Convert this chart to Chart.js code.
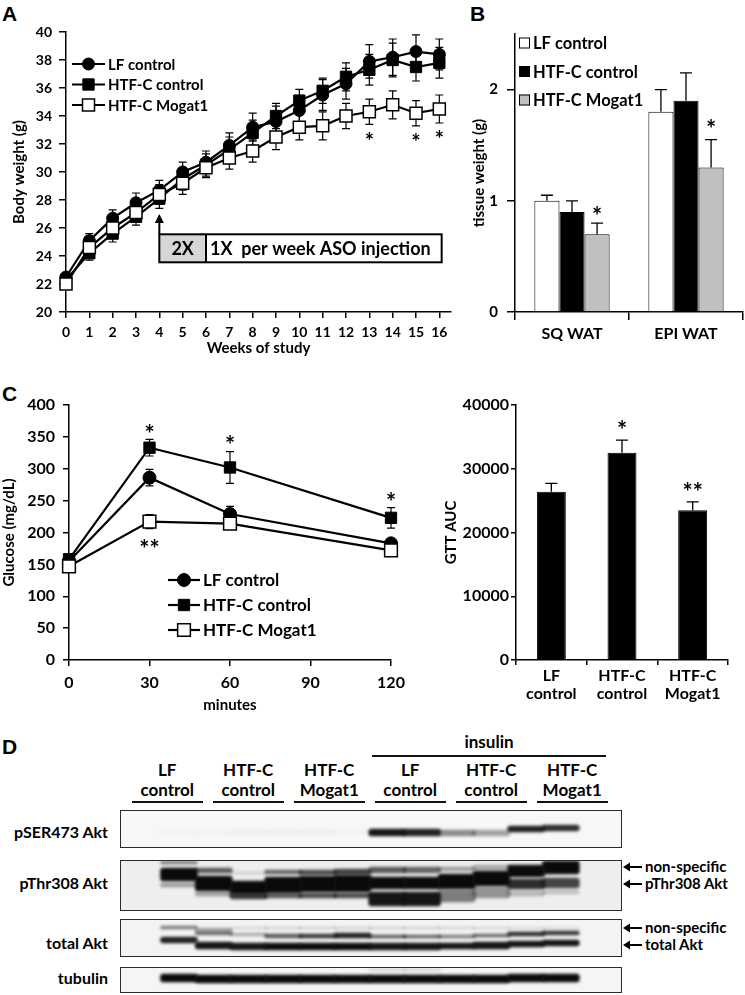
<!DOCTYPE html>
<html><head><meta charset="utf-8">
<script src="https://cdn.jsdelivr.net/npm/chart.js@4.4.1/dist/chart.umd.min.js"></script>
<style>
html,body{margin:0;padding:0;background:#fff}
body{width:745px;height:995px;position:relative;overflow:hidden;font-family:Lato,"Open Sans",sans-serif;font-weight:bold;color:#000}
canvas{position:absolute}
.t{position:absolute;white-space:nowrap}
.letter{position:absolute;font-family:"Liberation Sans",Arial,sans-serif;font-weight:bold;font-size:21px;line-height:21px}
.strip{position:absolute}
.strip .frame{position:absolute;left:0;top:0;right:0;bottom:0;border:1.5px solid #2b2b2b;box-sizing:border-box}
.uline{position:absolute;height:2px;background:#111}
</style></head><body>

<div class="letter" style="left:2px;top:3px">A</div>
<div class="letter" style="left:470px;top:3px">B</div>
<div class="letter" style="left:2px;top:383px">C</div>
<div class="letter" style="left:2px;top:736px">D</div>

<canvas id="cA" width="470" height="360" style="left:0;top:0"></canvas>
<canvas id="cB" width="275" height="360" style="left:470px;top:0"></canvas>
<canvas id="cC" width="435" height="360" style="left:0;top:360px"></canvas>
<canvas id="cD" width="310" height="360" style="left:435px;top:360px"></canvas>

<div id="blot"></div>

<script>
// ---------------- DATA ----------------
// Panel A: body weight
const weeks = [0,1,2,3,4,5,6,7,8,9,10,11,12,13,14,15,16];
const lfWeight     = [22.5,25.1,26.7,27.8,28.7,30.0,30.7,31.9,33.2,33.6,34.4,35.5,36.3,37.9,38.2,38.6,38.4];
const lfWeightErr  = [0.3,0.5,0.6,0.7,0.7,0.7,0.8,0.9,1.0,1.1,1.0,1.1,1.1,1.2,1.3,1.2,1.1];
const htfWeight    = [22.3,24.2,25.6,26.8,28.1,29.5,30.5,31.6,32.8,34.0,35.1,35.8,36.8,37.3,38.0,37.5,37.8];
const htfWeightErr = [0.3,0.5,0.6,0.6,0.7,0.8,0.8,0.9,0.9,0.9,0.8,0.9,1.0,1.1,1.2,1.0,1.1];
const mogatWeight    = [22.0,24.6,26.0,27.1,28.4,29.2,30.3,31.0,31.5,32.5,33.2,33.3,34.0,34.3,34.8,34.2,34.5];
const mogatWeightErr = [0.3,0.5,0.6,0.6,0.7,0.8,0.7,0.8,0.8,0.9,0.9,1.0,0.9,0.9,1.0,0.9,1.0];
const weightStarWeeks = [13,15,16];
const injectionWeeks = [4,6,16.1];
const injectionLabels = ['2X','1X  per week ASO injection'];

// Panel B: tissue weight
const tissueCats = ['SQ WAT','EPI WAT'];
const lfTissue = [1.0,1.8],  lfTissueErr = [0.05,0.2];
const htfTissue = [0.9,1.9], htfTissueErr = [0.1,0.25];
const mogatTissue = [0.7,1.3], mogatTissueErr = [0.1,0.25];

// Panel C: GTT
const gttMinutes = [0,30,60,120];
const lfGlucose = [155,286,229,183],   lfGlucoseErr = [5,13,12,5];
const htfGlucose = [158,333,302,223],  htfGlucoseErr = [5,13,25,16];
const mogatGlucose = [147,217,214,172], mogatGlucoseErr = [5,11,8,5];
const aucCats = [['LF','control'],['HTF-C','control'],['HTF-C','Mogat1']];
const gttAuc = [26400,32500,23500];
const gttAucErr = [1300,2000,1300];
const aucStars = ['','*','**'];

// Panel D: western blot band data (lane 0..11; top/bottom in strip px units; ink 0..1)
const lanes = [0,1,2,3,4,5,6,7,8,9,10,11];
const blotGroups = [['LF','control'],['HTF-C','control'],['HTF-C','Mogat1'],['LF','control'],['HTF-C','control'],['HTF-C','Mogat1']];
const serTop    = [20,20,20,20,20,20,19,19,20,20,16,15];
const serBottom = [25,25,25,25,25,25,26,26,26,26,22,21];
const serInk    = [0.02,0.02,0.03,0.03,0.03,0.02,0.95,0.9,0.45,0.35,0.9,0.85];
const thrNsTop    = [1,8,12,10,10,9,7,7,7,5,5,1];
const thrNsBottom = [4,13,14,14,15,15,13,13,11,10,17,14];
const thrNsInk    = [0.5,0.65,0.15,0.6,0.7,0.75,0.65,0.6,0.35,0.3,1.0,1.0];
const thrTop    = [8,16,21,17,16,15,17,17,14,11,19,18];
const thrBottom = [21,31,34,33,32,32,29,29,29,26,29,28];
const thrInk    = [1.0,1.0,1.0,1.0,1.0,1.0,1.0,1.0,1.0,1.0,0.85,0.75];
const thrLowTop    = [23,32,33,33,33,33,32,32,30,27,31,30];
const thrLowBottom = [27,36,39,38,38,38,46,46,42,38,36,34];
const thrLowInk    = [0.35,0.35,0.8,0.65,0.7,0.7,0.95,0.95,0.5,0.4,0.25,0.2];
const totFaintTop    = [7,9,8,8,8,8,8,8,8,8,8,8];
const totFaintBottom = [10,12,10,10,10,10,10,10,10,10,10,10];
const totFaintInk    = [0.5,0.3,0.12,0.15,0.15,0.15,0.15,0.15,0.12,0.12,0.1,0.1];
const totNsTop    = [18,12,14,15,15,14,16,16,16,15,13,12];
const totNsBottom = [24,16,17,19,19,19,19,19,19,18,17,16];
const totNsInk    = [0.9,0.55,0.3,0.65,0.8,0.9,0.65,0.6,0.5,0.6,0.85,0.8];
const totTop    = [30,23,24,24,24,24,24,24,24,23,22,21];
const totBottom = [30,30,31,31,31,31,31,31,30,30,28,27];
const totInk    = [0.0,0.95,0.95,1.0,1.0,1.0,0.95,0.95,0.95,0.95,0.95,0.95];
const tubTop    = [7,8,8,8,8,8,8,8,8,8,7,7];
const tubBottom = [15,16,16,16,16,16,16,16,16,16,15,15];
const tubInk    = [1,1,1,1,1,1,1,1,1,1,1,1];
const tubFaintTop = [2,2,2,2,2,2,2,2,2,2,2,2];
const tubFaintBottom = [4,4,4,4,4,4,4,4,4,4,4,4];
const tubFaintInk = [0,0,0,0,0,0,0.15,0.15,0,0,0,0];

// ---------------- SETUP ----------------
Chart.defaults.font.family = 'Lato, "Open Sans", sans-serif';
Chart.defaults.font.weight = 'bold';
Chart.defaults.color = '#000';
Chart.defaults.animation = false;
Chart.defaults.responsive = false;
Chart.defaults.devicePixelRatio = 1;
Chart.defaults.plugins.legend.display = false;
Chart.defaults.plugins.tooltip.enabled = false;

function valOf(d){ return (d !== null && typeof d === 'object') ? d.y : d; }

function drawErrors(chart, o){
  const ctx = chart.ctx;
  ctx.save();
  ctx.strokeStyle = '#000';
  ctx.lineWidth = o.width || 1.2;
  chart.data.datasets.forEach((ds, i) => {
    if (!ds.errors) return;
    const meta = chart.getDatasetMeta(i);
    const ys = chart.scales[meta.yAxisID];
    meta.data.forEach((el, j) => {
      const v = valOf(ds.data[j]), e = ds.errors[j];
      const yt = ys.getPixelForValue(v + e);
      const yb = o.up ? ys.getPixelForValue(v) : ys.getPixelForValue(v - e);
      const h = o.cap / 2;
      ctx.beginPath();
      ctx.moveTo(el.x, yt); ctx.lineTo(el.x, yb);
      ctx.moveTo(el.x - h, yt); ctx.lineTo(el.x + h, yt);
      if (!o.up) { ctx.moveTo(el.x - h, yb); ctx.lineTo(el.x + h, yb); }
      ctx.stroke();
    });
  });
  ctx.restore();
}
const errorBars = {
  id: 'errorBars',
  beforeDatasetsDraw(chart, a, o){ if (o.behind) drawErrors(chart, o); },
  afterDatasetsDraw(chart, a, o){ if (!o.behind) drawErrors(chart, o); }
};

const stars = {
  id: 'stars',
  afterDatasetsDraw(chart, a, o){
    if (!o.items) return;
    const ctx = chart.ctx;
    ctx.save();
    ctx.fillStyle = '#000';
    ctx.font = 'bold ' + o.size + 'px Lato, sans-serif';
    ctx.textAlign = 'center';
    ctx.textBaseline = 'alphabetic';
    o.items.forEach(it => {
      if (!it.text) return;
      const ds = chart.data.datasets[it.dataset];
      const meta = chart.getDatasetMeta(it.dataset);
      const ys = chart.scales[meta.yAxisID];
      const v = valOf(ds.data[it.index]);
      const e = ds.errors ? ds.errors[it.index] : 0;
      const x = meta.data[it.index].x;
      const y = it.side === 'below' ? ys.getPixelForValue(v - e) + it.gap : ys.getPixelForValue(v + e) - it.gap;
      ctx.fillText(it.text, x, y + 0.55 * o.size);
    });
    ctx.restore();
  }
};

const lineLegend = {
  id: 'lineLegend',
  afterDraw(chart, a, o){
    const ctx = chart.ctx, ca = chart.chartArea;
    ctx.save();
    chart.data.datasets.forEach((ds, i) => {
      const y = ca.top + o.top + i * o.rowGap;
      const x0 = ca.left + o.left;
      ctx.strokeStyle = '#000';
      ctx.lineWidth = ds.borderWidth;
      ctx.beginPath(); ctx.moveTo(x0, y); ctx.lineTo(x0 + o.lineLen, y); ctx.stroke();
      ctx.fillStyle = ds.pointBackgroundColor;
      ctx.strokeStyle = ds.pointBorderColor;
      ctx.lineWidth = ds.pointBorderWidth;
      Chart.helpers.drawPoint(ctx, {pointStyle: ds.pointStyle, radius: ds.pointRadius, rotation: 0, borderWidth: ds.pointBorderWidth}, x0 + o.lineLen / 2, y);
      ctx.fillStyle = '#000';
      ctx.font = 'bold ' + o.size + 'px Lato, sans-serif';
      ctx.textAlign = 'left';
      ctx.textBaseline = 'middle';
      ctx.fillText(ds.label, x0 + o.lineLen + o.gap, y + 1);
    });
    ctx.restore();
  }
};

const boxLegend = {
  id: 'boxLegend',
  afterDraw(chart, a, o){
    const ctx = chart.ctx, ca = chart.chartArea;
    ctx.save();
    chart.data.datasets.forEach((ds, i) => {
      const y = ca.top + o.top + i * o.rowGap;
      const x0 = ca.left + o.left;
      ctx.fillStyle = ds.backgroundColor;
      ctx.strokeStyle = '#000';
      ctx.lineWidth = 1;
      ctx.fillRect(x0, y - o.box / 2, o.box, o.box);
      ctx.strokeRect(x0 + 0.5, y - o.box / 2 + 0.5, o.box - 1, o.box - 1);
      ctx.fillStyle = '#000';
      ctx.font = 'bold ' + o.size + 'px Lato, sans-serif';
      ctx.textAlign = 'left';
      ctx.textBaseline = 'middle';
      ctx.fillText(ds.label, x0 + o.box + o.gap, y + 1);
    });
    ctx.restore();
  }
};

const injection = {
  id: 'injection',
  afterDatasetsDraw(chart, a, o){
    const xs = chart.scales.x, ys = chart.scales.y, ctx = chart.ctx;
    const x0 = xs.getPixelForValue(injectionWeeks[0]);
    const x1 = xs.getPixelForValue(injectionWeeks[1]);
    const x2 = xs.getPixelForValue(injectionWeeks[2]);
    const yt = ys.getPixelForValue(o.top), yb = ys.getPixelForValue(o.bottom), ya = ys.getPixelForValue(o.arrowTip);
    ctx.save();
    ctx.fillStyle = '#d6d6d6'; ctx.fillRect(x0, yt, x1 - x0, yb - yt);
    ctx.fillStyle = '#fff'; ctx.fillRect(x1, yt, x2 - x1, yb - yt);
    ctx.strokeStyle = '#000'; ctx.lineWidth = 2;
    ctx.strokeRect(x0, yt, x2 - x0, yb - yt);
    ctx.beginPath(); ctx.moveTo(x1, yt); ctx.lineTo(x1, yb); ctx.stroke();
    ctx.beginPath(); ctx.moveTo(x0, yt); ctx.lineTo(x0, ya + 6); ctx.stroke();
    ctx.beginPath(); ctx.moveTo(x0, ya); ctx.lineTo(x0 - 4.5, ya + 9); ctx.lineTo(x0 + 4.5, ya + 9); ctx.closePath();
    ctx.fillStyle = '#000'; ctx.fill();
    ctx.font = 'bold 18px Lato, sans-serif'; ctx.textBaseline = 'middle';
    ctx.textAlign = 'center'; ctx.fillText(injectionLabels[0], (x0 + x1) / 2, (yt + yb) / 2 + 1);
    ctx.textAlign = 'left'; ctx.fillText(injectionLabels[1], x1 + 4, (yt + yb) / 2 + 1);
    ctx.restore();
  }
};

const blurPlugin = {
  id: 'blur',
  beforeDatasetsDraw(c, a, o){ c.ctx.save(); c.ctx.filter = 'blur(' + o.px + 'px)'; },
  afterDatasetsDraw(c){ c.ctx.restore(); }
};

function axisY(width, min, max, step, tickLen, pad, title, titlePad, size, titleSize){
  return {
    min, max,
    afterFit: s => { s.width = width; },
    afterBuildTicks: s => {
      const t = [];
      for (let v = min; v <= max + 1e-9; v += step) t.push({value: v});
      s.ticks = t;
    },
    ticks: {stepSize: step, padding: pad, color: '#000', font: {size: size, weight: 'bold'}, callback: v => String(v)},
    grid: {drawOnChartArea: false, drawTicks: true, tickLength: tickLen, color: '#000', lineWidth: 1.5},
    border: {display: true, color: '#000', width: 1.5},
    title: {display: true, text: title, color: '#000', font: {size: titleSize || size, weight: 'bold'}, padding: {top: titlePad, bottom: 0}}
  };
}

function pts(xs, ys){ return xs.map((x, i) => ({x, y: ys[i]})); }

function lineSet(label, xs, ys, errs, style, r, fill, bw, order){
  return {label, data: pts(xs, ys), errors: errs, borderColor: '#000', borderWidth: 2.2,
    pointStyle: style, pointRadius: r, pointHoverRadius: r, pointBackgroundColor: fill,
    pointBorderColor: '#000', pointBorderWidth: bw, tension: 0, order, clip: false};
}

// ---------------- PANEL A ----------------
new Chart(document.getElementById('cA'), {
  type: 'line',
  data: {datasets: [
    lineSet('LF control', weeks, lfWeight, lfWeightErr, 'circle', 6, '#000', 1, 1),
    lineSet('HTF-C control', weeks, htfWeight, htfWeightErr, 'rect', 8, '#000', 1, 2),
    lineSet('HTF-C Mogat1', weeks, mogatWeight, mogatWeightErr, 'rect', 8.5, '#fff', 1.5, 0)
  ]},
  options: {
    layout: {padding: {top: 32, right: 19, bottom: 0, left: 0}},
    scales: {
      x: {type: 'linear', min: 0, max: 16.5,
        afterFit: s => { s.height = 48; },
        afterBuildTicks: s => { s.ticks = weeks.map(w => ({value: w})); },
        ticks: {stepSize: 1, padding: 6, color: '#000', font: {size: 14, weight: 'bold'}, autoSkip: false, maxRotation: 0},
        grid: {drawOnChartArea: false, tickLength: 6, color: '#000', lineWidth: 1.5},
        border: {display: true, color: '#000', width: 1.5},
        title: {display: true, text: 'Weeks of study', color: '#000', font: {size: 15, weight: 'bold'}, padding: {top: 0, bottom: 3}}},
      y: axisY(66, 20, 40, 2, 7, 7, 'Body weight (g)', 10, 14, 15)
    },
    plugins: {
      errorBars: {behind: true, cap: 8, width: 1.2},
      stars: {size: 22, items: weightStarWeeks.map(w => ({dataset: 2, index: weeks.indexOf(w), text: '*', side: 'below', gap: 12}))},
      lineLegend: {top: 32, rowGap: 20.5, left: 6, lineLen: 33, gap: 3, size: 15},
      injection: {top: 25.55, bottom: 23.55, arrowTip: 27.0}
    }
  },
  plugins: [errorBars, stars, lineLegend, injection]
});

// ---------------- PANEL B ----------------
function barSet(label, vals, errs, color){
  return {label, data: vals, errors: errs, backgroundColor: color, borderColor: '#000', borderWidth: 1};
}
new Chart(document.getElementById('cB'), {
  type: 'bar',
  data: {labels: tissueCats, datasets: [
    barSet('LF control', lfTissue, lfTissueErr, '#ffffff'),
    barSet('HTF-C control', htfTissue, htfTissueErr, '#000000'),
    barSet('HTF-C Mogat1', mogatTissue, mogatTissueErr, '#c0c0c0')
  ]},
  options: {
    datasets: {bar: {categoryPercentage: 0.66, barPercentage: 1}},
    layout: {padding: {top: 34, right: 2, bottom: 0, left: 0}},
    scales: {
      x: {afterFit: s => { s.height = 48; },
        ticks: {padding: 4, color: '#000', font: {size: 16, weight: 'bold'}},
        grid: {offset: true, drawOnChartArea: false, tickLength: 8, color: '#000', lineWidth: 1.5},
        border: {display: true, color: '#000', width: 1.5}},
      y: axisY(45, 0, 2.5, 1, 8, 9, 'tissue weight (g)', 0, 15, 15)
    },
    plugins: {
      errorBars: {behind: false, up: true, cap: 12, width: 1.3},
      stars: {size: 24, items: [{dataset: 2, index: 0, text: '*', side: 'above', gap: 11}, {dataset: 2, index: 1, text: '*', side: 'above', gap: 15}]},
      boxLegend: {top: 9, rowGap: 28.5, left: 4, box: 11, gap: 3, size: 16.5}
    }
  },
  plugins: [errorBars, stars, boxLegend]
});

// ---------------- PANEL C (GTT) ----------------
new Chart(document.getElementById('cC'), {
  type: 'line',
  data: {datasets: [
    lineSet('LF control', gttMinutes, lfGlucose, lfGlucoseErr, 'circle', 6.5, '#000', 1, 1),
    lineSet('HTF-C control', gttMinutes, htfGlucose, htfGlucoseErr, 'rect', 8, '#000', 1, 2),
    lineSet('HTF-C Mogat1', gttMinutes, mogatGlucose, mogatGlucoseErr, 'rect', 9, '#fff', 1.5, 0)
  ]},
  options: {
    layout: {padding: {top: 45, right: 44, bottom: 0, left: 0}},
    scales: {
      x: {type: 'linear', min: 0, max: 120,
        afterFit: s => { s.height = 60; },
        ticks: {stepSize: 30, padding: 7, color: '#000', font: {size: 16, weight: 'bold'}},
        grid: {drawOnChartArea: false, tickLength: 6, color: '#000', lineWidth: 1.5},
        border: {display: true, color: '#000', width: 1.5},
        title: {display: true, text: 'minutes', color: '#000', font: {size: 15, weight: 'bold'}, padding: {top: 0, bottom: 6}}},
      y: axisY(69, 0, 400, 50, 6, 8, 'Glucose (mg/dL)', 0, 16, 15)
    },
    plugins: {
      errorBars: {behind: true, cap: 8, width: 1.2},
      stars: {size: 24, items: [
        {dataset: 1, index: 1, text: '*', side: 'above', gap: 10},
        {dataset: 1, index: 2, text: '*', side: 'above', gap: 11},
        {dataset: 1, index: 3, text: '*', side: 'above', gap: 10},
        {dataset: 2, index: 1, text: '**', side: 'below', gap: 16}]},
      lineLegend: {top: 175, rowGap: 25, left: 99, lineLen: 32, gap: 3, size: 17}
    }
  },
  plugins: [errorBars, stars, lineLegend]
});

// ---------------- PANEL C (AUC) ----------------
new Chart(document.getElementById('cD'), {
  type: 'bar',
  data: {labels: aucCats, datasets: [
    {label: 'GTT AUC', data: gttAuc, errors: gttAucErr, backgroundColor: '#000', borderColor: '#000', borderWidth: 1}
  ]},
  options: {
    datasets: {bar: {categoryPercentage: 0.41, barPercentage: 1}},
    layout: {padding: {top: 45, right: 17, bottom: 0, left: 0}},
    scales: {
      x: {afterFit: s => { s.height = 60; },
        ticks: {padding: 2, color: '#000', font: {size: 16, weight: 'bold', lineHeight: 1.1}},
        grid: {offset: true, drawOnChartArea: false, tickLength: 5, color: '#000', lineWidth: 1.5},
        border: {display: true, color: '#000', width: 1.5}},
      y: axisY(81, 0, 40000, 10000, 5, 2, 'GTT AUC', 7, 16, 15)
    },
    plugins: {
      errorBars: {behind: false, up: true, cap: 12, width: 1.3},
      stars: {size: 24, items: aucStars.map((s, i) => ({dataset: 0, index: i, text: s, side: 'above', gap: 14}))}
    }
  },
  plugins: [errorBars, stars]
});

// ---------------- PANEL D (blot) ----------------
const blot = document.getElementById('blot');
const stripLeft = 120, stripWidth = 502, laneMin = -0.667, laneMax = 11.73;
const lanePx = i => stripLeft + (i - laneMin) * stripWidth / (laneMax - laneMin);

function addText(txt, left, top, size, align, width){
  const d = document.createElement('div');
  d.className = 't';
  d.style.cssText = 'left:' + left + 'px;top:' + top + 'px;font-size:' + size + 'px;line-height:' + Math.round(size * 1.15) + 'px;' +
    (width ? 'width:' + width + 'px;text-align:' + align + ';' : '');
  d.innerHTML = txt;
  blot.appendChild(d);
}
function addLine(left, top, width){
  const d = document.createElement('div');
  d.className = 'uline';
  d.style.left = left + 'px'; d.style.top = top + 'px'; d.style.width = width + 'px';
  blot.appendChild(d);
}
blotGroups.forEach((g, k) => {
  const cx = (lanePx(2 * k) + lanePx(2 * k + 1)) / 2;
  addText(g[0] + '<br>' + g[1], cx - 50, 760, 17, 'center', 100);
  addLine(cx - 35, 801, 71);
});
addText('insulin', 439, 732, 17, 'center', 100);
addLine(372, 755, 234);

[['pSER473 Akt', 832], ['pThr308 Akt', 883], ['total Akt', 943], ['tubulin', 978]].forEach(r => {
  addText(r[0], 0, r[1] - 9, 16, 'right', 108);
});
[['non-specific', 867], ['pThr308 Akt', 884], ['non-specific', 928], ['total Akt', 945]].forEach(r => {
  addText(r[0], 645, r[1] - 9, 15, 'left', 0);
  const s = document.createElementNS('http://www.w3.org/2000/svg', 'svg');
  s.setAttribute('width', '22'); s.setAttribute('height', '12');
  s.style.cssText = 'position:absolute;left:622px;top:' + (r[1] - 6) + 'px';
  s.innerHTML = '<line x1="20" y1="6" x2="6" y2="6" stroke="#000" stroke-width="2"/><polygon points="1,6 8,1.5 8,10.5" fill="#000"/>';
  blot.appendChild(s);
});

function strip(top, h, bg, bands){
  const d = document.createElement('div');
  d.className = 'strip';
  d.style.cssText = 'left:' + stripLeft + 'px;top:' + top + 'px;width:' + stripWidth + 'px;height:' + h + 'px;background:' + bg;
  const c = document.createElement('canvas');
  c.width = stripWidth; c.height = h; c.style.left = '0'; c.style.top = '0';
  d.appendChild(c);
  const f = document.createElement('div'); f.className = 'frame'; d.appendChild(f);
  blot.appendChild(d);
  new Chart(c, {
    type: 'bar',
    data: {datasets: bands.map(b => ({
      data: lanes.map((l, i) => ({x: l, y: [b[0][i], b[1][i]]})),
      backgroundColor: b[2].map(a => 'rgba(10,10,10,' + a + ')'),
      barThickness: 37, grouped: false, borderWidth: 0, borderRadius: 3, borderSkipped: false
    }))},
    options: {
      layout: {padding: 0},
      scales: {
        x: {type: 'linear', display: false, min: laneMin, max: laneMax},
        y: {display: false, min: 0, max: h, reverse: true}
      },
      plugins: {blur: {px: 1.4}}
    },
    plugins: [blurPlugin]
  });
}
strip(810, 38, '#f7f7f7', [[serTop, serBottom, serInk]]);
strip(860, 51, '#eeeeee', [[thrNsTop, thrNsBottom, thrNsInk], [thrTop, thrBottom, thrInk], [thrLowTop, thrLowBottom, thrLowInk]]);
strip(919, 38, '#f3f3f3', [[totFaintTop, totFaintBottom, totFaintInk], [totNsTop, totNsBottom, totNsInk], [totTop, totBottom, totInk]]);
strip(967, 26, '#f5f5f5', [[tubFaintTop, tubFaintBottom, tubFaintInk], [tubTop, tubBottom, tubInk]]);
</script>
</body></html>
